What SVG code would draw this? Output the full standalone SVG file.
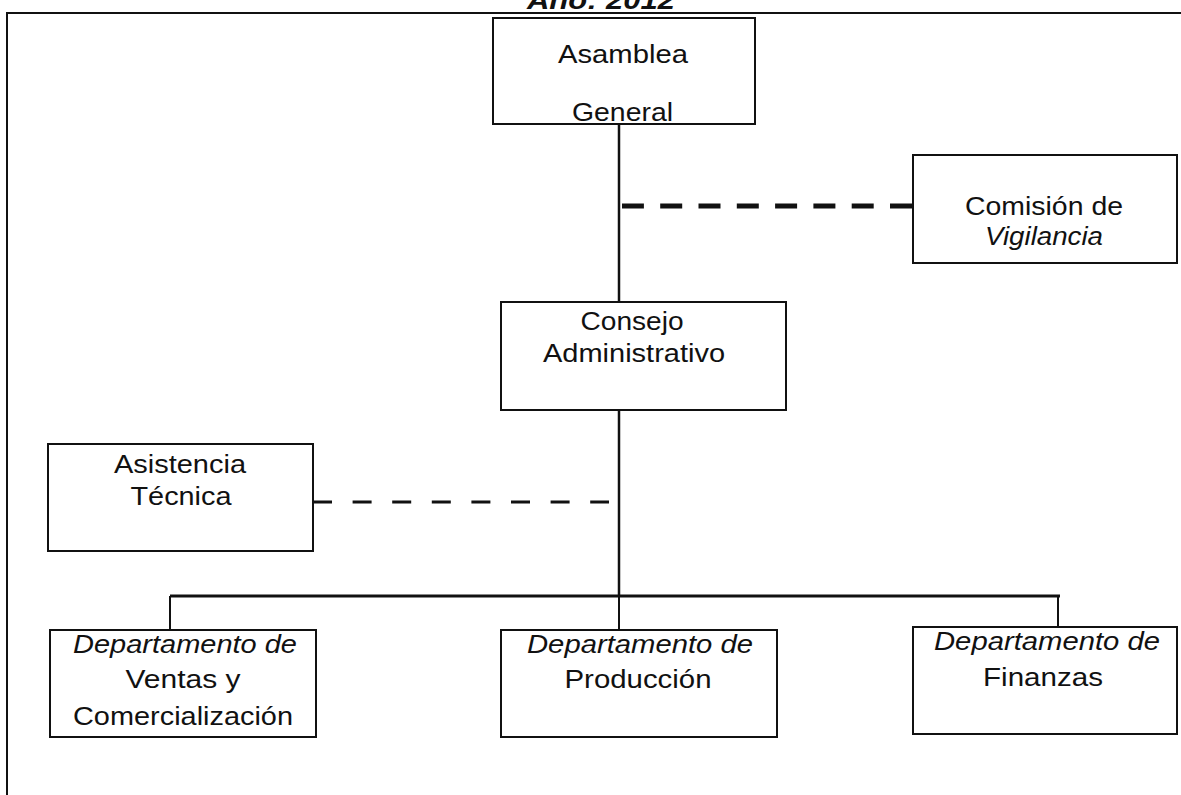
<svg xmlns="http://www.w3.org/2000/svg" width="1181" height="795" viewBox="0 0 1181 795">
<style>
.box{fill:#fff;stroke:#111;stroke-width:2}
.t{font-family:"Liberation Sans",Arial,sans-serif;font-size:25px;fill:#111;text-anchor:middle}
.i{font-style:italic}
.ln{stroke:#111;fill:none}
</style>
<rect x="0" y="0" width="1181" height="795" fill="#fff"/>
<text id="title" x="601" y="9" class="t" font-weight="bold" font-style="italic" textLength="148" lengthAdjust="spacingAndGlyphs">Año: 2012</text>
<g id="frame" class="ln" stroke-width="2">
<path d="M7 795 V13 H1181"/>
</g>
<g id="connectors" class="ln">
<line x1="619" y1="124" x2="619" y2="302" stroke-width="2.5"/>
<line x1="912" y1="206" x2="622" y2="206" stroke-width="5" stroke-dasharray="22 16.3"/>
<line x1="619" y1="410" x2="619" y2="597" stroke-width="2.5"/>
<line x1="313" y1="502" x2="609" y2="502" stroke-width="3" stroke-dasharray="19 20.6"/>
<line x1="170" y1="596" x2="1060" y2="596" stroke-width="3"/>
<line x1="170" y1="596" x2="170" y2="630" stroke-width="2"/>
<line x1="619" y1="596" x2="619" y2="630" stroke-width="2"/>
<line x1="1058" y1="596" x2="1058" y2="627" stroke-width="2"/>
</g>
<g id="asamblea">
<rect class="box" x="493" y="18" width="262" height="106"/>
<text class="t" x="623" y="63" textLength="130" lengthAdjust="spacingAndGlyphs">Asamblea</text>
<text class="t" x="622.5" y="121" textLength="101" lengthAdjust="spacingAndGlyphs">General</text>
</g>
<g id="comision">
<rect class="box" x="913" y="155" width="264" height="108"/>
<text class="t" x="1044" y="215" textLength="158" lengthAdjust="spacingAndGlyphs">Comisión de</text>
<text class="t i" x="1044" y="245" textLength="118" lengthAdjust="spacingAndGlyphs">Vigilancia</text>
</g>
<g id="consejo">
<rect class="box" x="501" y="302" width="285" height="108"/>
<text class="t" x="632" y="330" textLength="103" lengthAdjust="spacingAndGlyphs">Consejo</text>
<text class="t" x="634" y="362" textLength="182" lengthAdjust="spacingAndGlyphs">Administrativo</text>
</g>
<g id="asistencia">
<rect class="box" x="48" y="444" width="265" height="107"/>
<text class="t" x="180" y="473" textLength="132" lengthAdjust="spacingAndGlyphs">Asistencia</text>
<text class="t" x="181" y="505" textLength="101" lengthAdjust="spacingAndGlyphs">Técnica</text>
</g>
<g id="ventas">
<rect class="box" x="50" y="630" width="266" height="107"/>
<text class="t i" x="185" y="653" textLength="224" lengthAdjust="spacingAndGlyphs">Departamento de</text>
<text class="t" x="183" y="688" textLength="115" lengthAdjust="spacingAndGlyphs">Ventas y</text>
<text class="t" x="183" y="725" textLength="220" lengthAdjust="spacingAndGlyphs">Comercialización</text>
</g>
<g id="produccion">
<rect class="box" x="501" y="630" width="276" height="107"/>
<text class="t i" x="640" y="653" textLength="226" lengthAdjust="spacingAndGlyphs">Departamento de</text>
<text class="t" x="638" y="688" textLength="147" lengthAdjust="spacingAndGlyphs">Producción</text>
</g>
<g id="finanzas">
<rect class="box" x="913" y="627" width="264" height="107"/>
<text class="t i" x="1047" y="650" textLength="226" lengthAdjust="spacingAndGlyphs">Departamento de</text>
<text class="t" x="1043" y="686" textLength="120" lengthAdjust="spacingAndGlyphs">Finanzas</text>
</g>
</svg>
